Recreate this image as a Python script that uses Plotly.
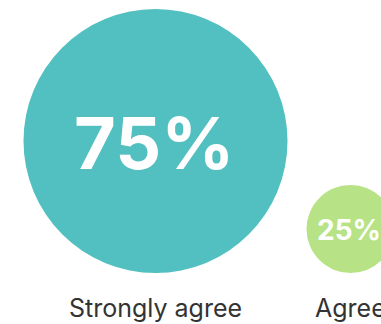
import plotly.graph_objects as go

# Survey answers shown as bubbles whose radius follows the share
categories = ["Strongly agree", "Agree"]
shares = [75, 25]
bubble_colors = ["#52BFC0", "#B7E386"]
pct_font_sizes = [72, 28]

W, H = 381, 324
px_per_unit = 132 / 75          # bubble radius per percentage point
left_edge = 23.5                # left side of the first bubble
gap = 19                        # space between neighbouring bubbles
baseline = 51                   # bubbles sit on this line
label_y = 16                    # category labels below the bubbles

fig = go.Figure()

shapes = []
annotations = []
x_cursor = left_edge
for cat, val, col, fs in zip(categories, shares, bubble_colors, pct_font_sizes):
    r = val * px_per_unit
    cx = x_cursor + r
    cy = baseline + r
    shapes.append(dict(
        type="circle", xref="x", yref="y",
        x0=cx - r, x1=cx + r, y0=cy - r, y1=cy + r,
        fillcolor=col, line=dict(width=0), layer="below",
    ))
    annotations.append(dict(
        x=cx - 2, y=cy - 1, xref="x", yref="y", text=f"{val}%", showarrow=False,
        xanchor="center", yanchor="middle",
        font=dict(family="Inter", size=fs, color="white", weight=700),
    ))
    annotations.append(dict(
        x=cx, y=label_y, xref="x", yref="y", text=cat, showarrow=False,
        xanchor="center", yanchor="middle",
        font=dict(family="Inter", size=25, color="#333333", weight=400),
    ))
    x_cursor = cx + r + gap

fig.update_layout(
    width=W, height=H, autosize=False,
    margin=dict(l=0, r=0, t=0, b=0),
    paper_bgcolor="white", plot_bgcolor="white",
    xaxis=dict(range=[0, W], visible=False, fixedrange=True),
    yaxis=dict(range=[0, H], visible=False, fixedrange=True),
    shapes=shapes, annotations=annotations, showlegend=False,
)

fig.write_html("out.html", config={"displayModeBar": False})
